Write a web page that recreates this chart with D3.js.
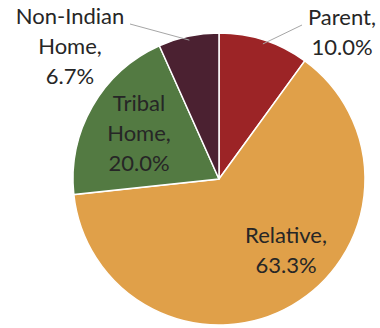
<!DOCTYPE html>
<html>
<head>
<meta charset="utf-8">
<script src="https://cdn.jsdelivr.net/npm/d3@7"></script>
<style>
  body { margin: 0; background: #fff; }
  text { font-family: Lato, "Open Sans", sans-serif; fill: #262626; }
</style>
</head>
<body>
<script>
// placement data
var categories = ['Parent', 'Relative', 'Tribal Home', 'Non-Indian Home'],
    values = [10.0, 63.3, 20.0, 6.7],
    colors = ['#9c2426', '#e0a049', '#537a42', '#4b2131'];

// label lines as they are wrapped in the picture
var labelLines = [
    ['Parent,', '10.0%'],
    ['Relative,', '63.3%'],
    ['Tribal', 'Home,', '20.0%'],
    ['Non-Indian', 'Home,', '6.7%']
];

var width = 380, height = 328,
    cx = 219, cy = 179, radius = 146;

// where each label sits (centre x, first baseline y) and where its leader line starts
var labelLayout = [
    {x: 342, y: 25, line: [302, 25]},
    {x: 286, y: 243},
    {x: 139, y: 111},
    {x: 70, y: 24, line: [130, 24]}
];

var data = categories.map(function(c, i) {
    return {name: c, value: values[i], color: colors[i], lines: labelLines[i], layout: labelLayout[i]};
});

var svg = d3.select('body')
    .append('svg')
    .attr('width', width)
    .attr('height', height);

var pie = d3.pie()
    .sort(null)
    .value(function(d) { return d.value; });

var arc = d3.arc()
    .innerRadius(0)
    .outerRadius(radius);

var edgeArc = d3.arc()
    .innerRadius(radius - 4)
    .outerRadius(radius - 4);

var g = svg.append('g')
    .attr('transform', 'translate(' + cx + ',' + cy + ')');

var arcs = pie(data);

g.selectAll('path')
    .data(arcs)
    .enter()
    .append('path')
    .attr('d', arc)
    .attr('fill', function(d) { return d.data.color; })
    .attr('stroke', '#fff')
    .attr('stroke-width', 1.5);

// leader lines for the outside labels
arcs.forEach(function(d) {
    var l = d.data.layout.line;
    if (!l) return;
    var p = edgeArc.centroid(d);
    svg.append('line')
        .attr('x1', l[0])
        .attr('y1', l[1])
        .attr('x2', cx + p[0])
        .attr('y2', cy + p[1])
        .attr('stroke', '#a6a6a6')
        .attr('stroke-width', 1);
});

var labels = svg.selectAll('text.lbl')
    .data(arcs)
    .enter()
    .append('text')
    .attr('class', 'lbl')
    .attr('text-anchor', 'middle')
    .attr('font-size', 22);

labels.selectAll('tspan')
    .data(function(d) {
        return d.data.lines.map(function(t, i) { return {t: t, i: i, lay: d.data.layout}; });
    })
    .enter()
    .append('tspan')
    .attr('x', function(d) { return d.lay.x; })
    .attr('y', function(d) { return d.lay.y + d.i * 30; })
    .text(function(d) { return d.t; });
</script>
</body>
</html>
